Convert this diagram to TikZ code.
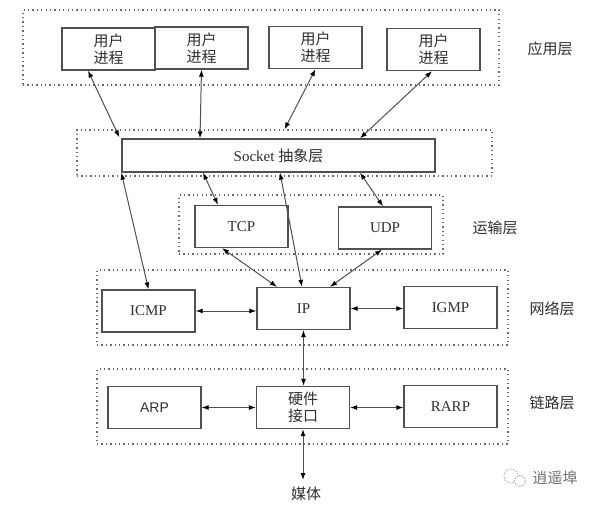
\documentclass[tikz,border=0pt]{standalone}
\usepackage{fontspec}
\setmainfont{Liberation Serif}
\newfontfamily\cjk{Noto Sans CJK SC}
\usetikzlibrary{arrows.meta}
\definecolor{boxline}{HTML}{505050}
\definecolor{txt}{HTML}{303030}
\definecolor{dotc}{HTML}{6A6A6A}
\begin{document}
\begin{tikzpicture}[x=1pt,y=-1pt,
  box/.style={draw=boxline,line width=1.3pt,minimum width=93pt,minimum height=42pt,inner sep=0pt,text=txt,align=center,font=\fontsize{15}{17}\selectfont},
  cbox/.style={box,font=\cjk\fontsize{15}{17}\selectfont},
  layer/.style={draw=dotc,line width=1.3pt,dash pattern=on 1.3pt off 3.1pt,inner sep=0pt},
  lbl/.style={text=txt,font=\cjk\fontsize{15}{17}\selectfont,inner sep=0pt},
  conn/.style={draw=boxline,line width=1pt,{Latex[length=7pt,width=5pt,black]}-{Latex[length=7pt,width=5pt,black]}}
]
\useasboundingbox[fill=white] (0,0) rectangle (594,504);

% layer boxes
\node[layer,minimum width=476pt,minimum height=75pt] (applayer) at (261,47.5) {};
\node[layer,minimum width=415pt,minimum height=46pt] (socklayer) at (284.5,153) {};
\node[layer,minimum width=264pt,minimum height=59pt] (translayer) at (311,224.5) {};
\node[layer,minimum width=411pt,minimum height=75pt] (netlayer) at (302.5,307.5) {};
\node[layer,minimum width=411pt,minimum height=75pt] (linklayer) at (302.5,406.5) {};

% layer labels
\node[lbl] (l1) at (550,49) {应用层};
\node[lbl] (l2) at (495,228) {运输层};
\node[lbl] (l3) at (552,309) {网络层};
\node[lbl] (l4) at (552,403) {链路层};

% user processes
\node[cbox] (u1) at (108.5,49) {用户\\进程};
\node[cbox] (u2) at (201.5,48) {用户\\进程};
\node[cbox] (u3) at (315.5,47.5) {用户\\进程};
\node[cbox] (u4) at (433.5,49.5) {用户\\进程};

% socket
\node[box,minimum width=313pt,minimum height=33pt,font=\fontsize{15}{17}\selectfont] (sock) at (278.5,155.5) {Socket {\cjk 抽象层}};

% transport
\node[box] (tcp) at (241.5,226.5) {TCP};
\node[box] (udp) at (385,228) {UDP};

% network
\node[box] (icmp) at (148.5,311) {ICMP};
\node[box] (ip) at (303.5,308.5) {IP};
\node[box] (igmp) at (450.5,307.5) {IGMP};

% link
\node[box] (arp) at (154.5,407.5) {\fontspec{Liberation Sans}\fontsize{14}{17}\selectfont ARP};
\node[cbox] (hw) at (303,407.5) {硬件\\接口};
\node[box] (rarp) at (450.5,406.5) {RARP};

% media
\coordinate (mediaend) at (303,480);
\node[lbl] (media) at (306,494) {媒体};

% connectors
\draw[conn] ([xshift=-20.5pt]u1.south) -- ([xshift=-2pt,yshift=1pt]sock.north west);
\draw[conn] (u2.south) -- ([xshift=-78.5pt]sock.north);
\draw[conn] (u3.south) -- (socklayer.north);
\draw[conn] ([xshift=-1.5pt]u4.south) -- ([xshift=81.5pt]sock.north);

\draw[conn] (sock.south west) -- (icmp.north);
\draw[conn] ([xshift=-75.5pt]sock.south) -- ([xshift=-23.5pt]tcp.north);
\draw[conn] ([xshift=1.5pt]sock.south) -- ([xshift=-1.5pt]ip.north);
\draw[conn] ([xshift=81.5pt]sock.south) -- ([xshift=-2pt]udp.north);

\draw[conn] ([xshift=-19.5pt]tcp.south) -- ([xshift=-26.5pt]ip.north);
\draw[conn] ([xshift=-3pt]udp.south) -- ([xshift=26.5pt]ip.north);

\draw[conn] (icmp.east) -- (icmp.east -| ip.west);
\draw[conn] (ip.east) -- (ip.east -| igmp.west);
\draw[conn] (ip.south) -- (ip.south |- hw.north);
\draw[conn] (arp.east) -- (arp.east -| hw.west);
\draw[conn] (hw.east) -- (hw.east -| rarp.west);
\draw[conn] (hw.south) -- (mediaend);

% watermark
\draw[draw=gray!70,line width=0.8pt,dash pattern=on 1.5pt off 1.2pt] (511,476) circle (7);
\draw[draw=gray!70,line width=0.8pt,dash pattern=on 1.5pt off 1.2pt,fill=white] (520,481) circle (5.5);
\node[lbl,text=gray!90!black] (wm) at (555,478) {逍遥埠};
\end{tikzpicture}
\end{document}
